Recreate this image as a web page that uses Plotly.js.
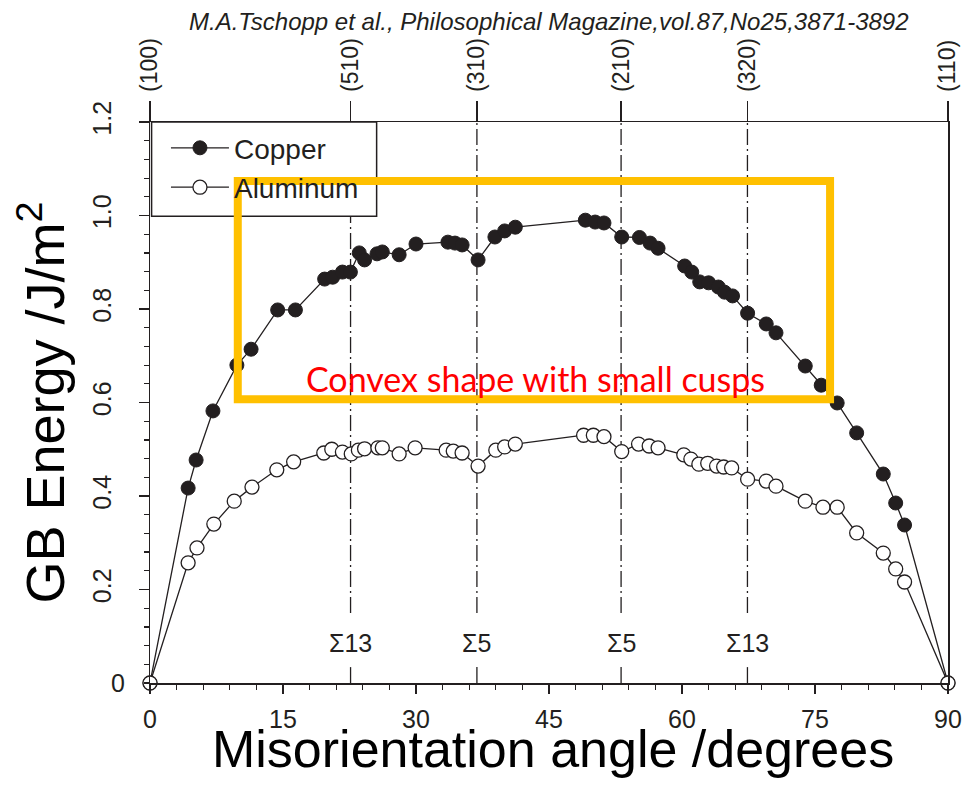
<!DOCTYPE html>
<html>
<head>
<meta charset="utf-8">
<script src="https://cdn.plot.ly/plotly-3.0.1.min.js"></script>
<style>html,body{margin:0;padding:0;background:#fff;}#chart{width:965px;height:801px;}</style>
</head>
<body>
<div id="chart"></div>
<script>
// ---- data ----
const cuAngle = [0, 4.3, 5.2, 7.1, 9.8, 11.4, 14.4, 16.4, 19.7, 20.6, 21.7, 22.6, 23.6, 24.2, 25.6, 26.2, 28.1, 30.0, 33.6, 34.4, 35.2, 37.0, 38.9, 40.0, 41.2, 49.1, 50.2, 51.2, 53.2, 55.2, 56.4, 57.3, 60.3, 61.1, 62.0, 63.0, 64.1, 64.8, 65.7, 67.4, 69.5, 70.6, 73.9, 75.7, 77.5, 79.7, 82.7, 84.1, 85.1, 90];
const cuEnergy = [0, 0.417, 0.477, 0.582, 0.680, 0.714, 0.798, 0.798, 0.864, 0.868, 0.879, 0.879, 0.920, 0.905, 0.918, 0.922, 0.916, 0.939, 0.943, 0.941, 0.937, 0.905, 0.954, 0.967, 0.975, 0.990, 0.986, 0.984, 0.954, 0.953, 0.941, 0.930, 0.892, 0.879, 0.858, 0.856, 0.847, 0.836, 0.828, 0.791, 0.768, 0.749, 0.678, 0.637, 0.599, 0.535, 0.447, 0.385, 0.338, 0];
const alAngle = [0, 4.3, 5.3, 7.2, 9.5, 11.5, 14.3, 16.2, 19.6, 20.5, 21.7, 22.7, 23.5, 24.2, 25.7, 26.2, 28.1, 29.9, 33.4, 34.2, 35.2, 37.0, 39.0, 40.0, 41.2, 48.9, 50.0, 51.2, 53.2, 55.1, 56.3, 57.3, 60.2, 61.0, 61.9, 62.9, 63.9, 64.7, 65.6, 67.4, 69.5, 70.6, 73.9, 75.9, 77.5, 79.7, 82.7, 84.1, 85.1, 90];
const alEnergy = [0, 0.257, 0.289, 0.340, 0.389, 0.419, 0.456, 0.473, 0.492, 0.500, 0.494, 0.490, 0.498, 0.501, 0.503, 0.503, 0.490, 0.503, 0.498, 0.496, 0.492, 0.464, 0.498, 0.505, 0.511, 0.530, 0.530, 0.527, 0.495, 0.511, 0.507, 0.503, 0.488, 0.479, 0.468, 0.470, 0.464, 0.462, 0.460, 0.436, 0.432, 0.421, 0.389, 0.376, 0.376, 0.321, 0.278, 0.244, 0.216, 0];

const seriesNames = ['Copper', 'Aluminum'];
const xTickVals = [0, 15, 30, 45, 60, 75, 90];
const xTickText = ['0', '15', '30', '45', '60', '75', '90'];
const yTickVals = [0.2, 0.4, 0.6, 0.8, 1.0, 1.2];
const yTickText = ['0.2', '0.4', '0.6', '0.8', '1.0', '1.2'];
const topTickVals = [0, 22.62, 36.87, 53.13, 67.38, 90];
const topTickText = ['(100)', '(510)', '(310)', '(210)', '(320)', '(110)'];
const sigmaAngles = [22.62, 36.87, 53.13, 67.38];
const sigmaLabels = ['\u03A313', '\u03A35', '\u03A35', '\u03A313'];
const citation = 'M.A.Tschopp et al., Philosophical Magazine,vol.87,No25,3871-3892';
const noteText = 'Convex shape with small cusps';
const xTitle = 'Misorientation angle /degrees';
const yTitle = 'GB Energy /J/m<sup>2</sup>';

// ---- styling ----
const FONT = 'Liberation Sans, Arial, sans-serif';
const INK = '#231f20';

const traces = [
  {
    x: cuAngle, y: cuEnergy, name: seriesNames[0], type: 'scatter', mode: 'lines+markers',
    line: {color: INK, width: 1.3},
    marker: {symbol: 'circle', size: 14, color: INK, line: {color: INK, width: 1}},
    cliponaxis: false, legendgroup: 'a'
  },
  {
    x: alAngle, y: alEnergy, name: seriesNames[1], type: 'scatter', mode: 'lines+markers',
    line: {color: INK, width: 1.3},
    marker: {symbol: 'circle', size: 14, color: '#ffffff', line: {color: INK, width: 1.3}},
    cliponaxis: false, legendgroup: 'b'
  },
  {
    x: cuAngle, y: cuEnergy, xaxis: 'x2', yaxis: 'y', type: 'scatter', mode: 'markers',
    marker: {opacity: 0, size: 1}, showlegend: false, hoverinfo: 'skip'
  }
];

const shapes = [];
sigmaAngles.forEach(a => {
  shapes.push({type: 'line', xref: 'x', yref: 'y', x0: a, x1: a, y0: 0.15, y1: 1.2,
    line: {color: INK, width: 1.3, dash: '16px,4px,2px,4px'}, layer: 'below'});
  shapes.push({type: 'line', xref: 'x', yref: 'y', x0: a, x1: a, y0: 0, y1: 0.034,
    line: {color: INK, width: 1.3}, layer: 'below'});
});
// legend box
shapes.push({type: 'rect', xref: 'paper', yref: 'paper', x0: 0.002, x1: 0.284, y0: 0.832, y1: 1.0,
  line: {color: INK, width: 1.5}, fillcolor: '#ffffff', layer: 'above'});
// highlight rectangle
shapes.push({type: 'rect', xref: 'x', yref: 'y', x0: 9.9, x1: 76.7, y0: 0.607, y1: 1.074,
  line: {color: '#FFC000', width: 8}, fillcolor: 'rgba(0,0,0,0)', layer: 'above'});

const annotations = [];
sigmaAngles.forEach((a, i) => {
  annotations.push({x: a, y: 0.086, xref: 'x', yref: 'y', text: sigmaLabels[i], showarrow: false,
    font: {family: FONT, size: 25, color: INK}, xanchor: 'center', yanchor: 'middle', bgcolor: 'rgba(0,0,0,0)'});
});
annotations.push({x: 0.5, y: 1, xref: 'paper', yref: 'paper', yshift: 101, text: '<i>' + citation + '</i>',
  showarrow: false, font: {family: FONT, size: 24, color: INK}, xanchor: 'center', yanchor: 'middle'});
annotations.push({x: 0, y: 0, xref: 'paper', yref: 'y', xshift: -32, text: '0', showarrow: false,
  font: {family: FONT, size: 25, color: INK}, xanchor: 'center', yanchor: 'middle'});
annotations.push({x: 43.5, y: 0.652, xref: 'x', yref: 'y', text: noteText, showarrow: false,
  font: {family: 'Lato, Open Sans, sans-serif', size: 34, color: '#ff0000'}, xanchor: 'center', yanchor: 'middle'});
annotations.push({x: 0.5, y: 0, xref: 'paper', yref: 'paper', xshift: 4, yshift: -66, text: xTitle,
  showarrow: false, font: {family: FONT, size: 52, color: '#000000'}, xanchor: 'center', yanchor: 'middle'});

const layout = {
  width: 965, height: 801,
  margin: {l: 150, r: 17, t: 122, b: 118, pad: 0},
  paper_bgcolor: '#ffffff', plot_bgcolor: '#ffffff',
  font: {family: FONT, color: INK},
  showlegend: true,
  legend: {x: 0.02, y: 0.998, xanchor: 'left', yanchor: 'top', bgcolor: 'rgba(0,0,0,0)',
    borderwidth: 0, font: {family: FONT, size: 28, color: INK}, itemwidth: 58,
    traceorder: 'grouped', tracegroupgap: 0},
  xaxis: {
    range: [0, 90], tickmode: 'array', tickvals: xTickVals, ticktext: xTickText,
    ticks: 'outside', ticklen: 9, tickwidth: 1.3, tickcolor: INK,
    minor: {dtick: 3, tick0: 0, ticks: 'outside', ticklen: 5, tickwidth: 1.2, tickcolor: INK},
    showline: true, linecolor: INK, linewidth: 1.5, showgrid: false, zeroline: false,
    tickfont: {family: FONT, size: 25, color: INK}, ticklabelstandoff: 4
  },
  xaxis2: {
    overlaying: 'x', side: 'top', anchor: 'y', range: [0, 90],
    tickmode: 'array', tickvals: topTickVals, ticktext: topTickText, tickangle: -90,
    ticks: 'outside', ticklen: 20, tickwidth: 1.3, tickcolor: INK,
    showline: true, linecolor: INK, linewidth: 1.5, showgrid: false, zeroline: false,
    tickfont: {family: FONT, size: 23, color: INK}, ticklabelstandoff: 4
  },
  yaxis: {
    range: [0, 1.2], tickmode: 'array', tickvals: yTickVals, ticktext: yTickText, tickangle: -90,
    ticks: 'outside', ticklen: 10, tickwidth: 1.3, tickcolor: INK,
    minor: {dtick: 0.04, tick0: 0, ticks: 'outside', ticklen: 5, tickwidth: 1.2, tickcolor: INK},
    showline: true, mirror: true, linecolor: INK, linewidth: 1.5, showgrid: false, zeroline: false,
    tickfont: {family: FONT, size: 25, color: INK}, ticklabelstandoff: 18,
    title: {text: yTitle, font: {family: FONT, size: 54, color: '#000000'}, standoff: 5}
  },
  shapes: shapes,
  annotations: annotations
};

Plotly.newPlot('chart', traces, layout, {displayModeBar: false, staticPlot: true});
</script>
</body>
</html>
